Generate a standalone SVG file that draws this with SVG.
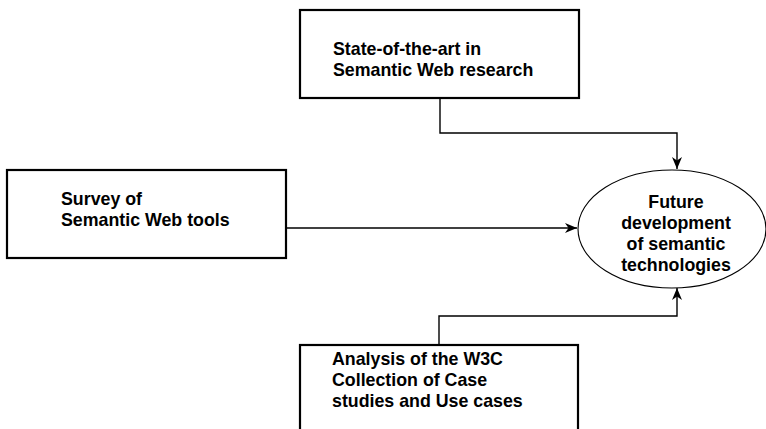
<svg xmlns="http://www.w3.org/2000/svg" width="766" height="429" viewBox="0 0 766 429">
<style>
.box{fill:#fff;stroke:#000;stroke-width:2.2}
.ell{fill:#fff;stroke:#000;stroke-width:1.1}
.con{fill:none;stroke:#000;stroke-width:1.4}
text{font-family:"Liberation Sans",Arial,sans-serif;font-weight:bold;font-size:17.8px;fill:#000}
.c{text-anchor:middle}
</style>
<defs>
<marker id="arr" viewBox="0 0 12 10" refX="12" refY="5" markerWidth="12" markerHeight="11" markerUnits="userSpaceOnUse" orient="auto">
<path d="M0,0 L12,5 L0,10 L3.5,5 Z" fill="#000"/>
</marker>
</defs>
<rect width="766" height="429" fill="#fff"/>
<g id="connectors">
<path class="con" d="M440,98 V133 H677 V169" marker-end="url(#arr)"/>
<path class="con" d="M286,228 H577" marker-end="url(#arr)"/>
<path class="con" d="M439,345 V316 H677 V288" marker-end="url(#arr)"/>
</g>
<g id="state">
<rect class="box" x="300" y="10" width="279" height="88"/>
<text x="333" y="55">State-of-the-art in</text>
<text x="333" y="76">Semantic Web research</text>
</g>
<g id="survey">
<rect class="box" x="7" y="170" width="279" height="88"/>
<text x="61" y="205">Survey of</text>
<text x="61" y="226">Semantic Web tools</text>
</g>
<g id="analysis">
<rect class="box" x="300" y="345" width="278" height="100"/>
<text x="332" y="365">Analysis of the W3C</text>
<text x="332" y="386">Collection of Case</text>
<text x="332" y="407">studies and Use cases</text>
</g>
<g id="future">
<ellipse class="ell" cx="672" cy="229" rx="94" ry="59"/>
<text class="c" x="676" y="208">Future</text>
<text class="c" x="676" y="229">development</text>
<text class="c" x="676" y="250">of semantic</text>
<text class="c" x="676" y="271">technologies</text>
</g>
</svg>
